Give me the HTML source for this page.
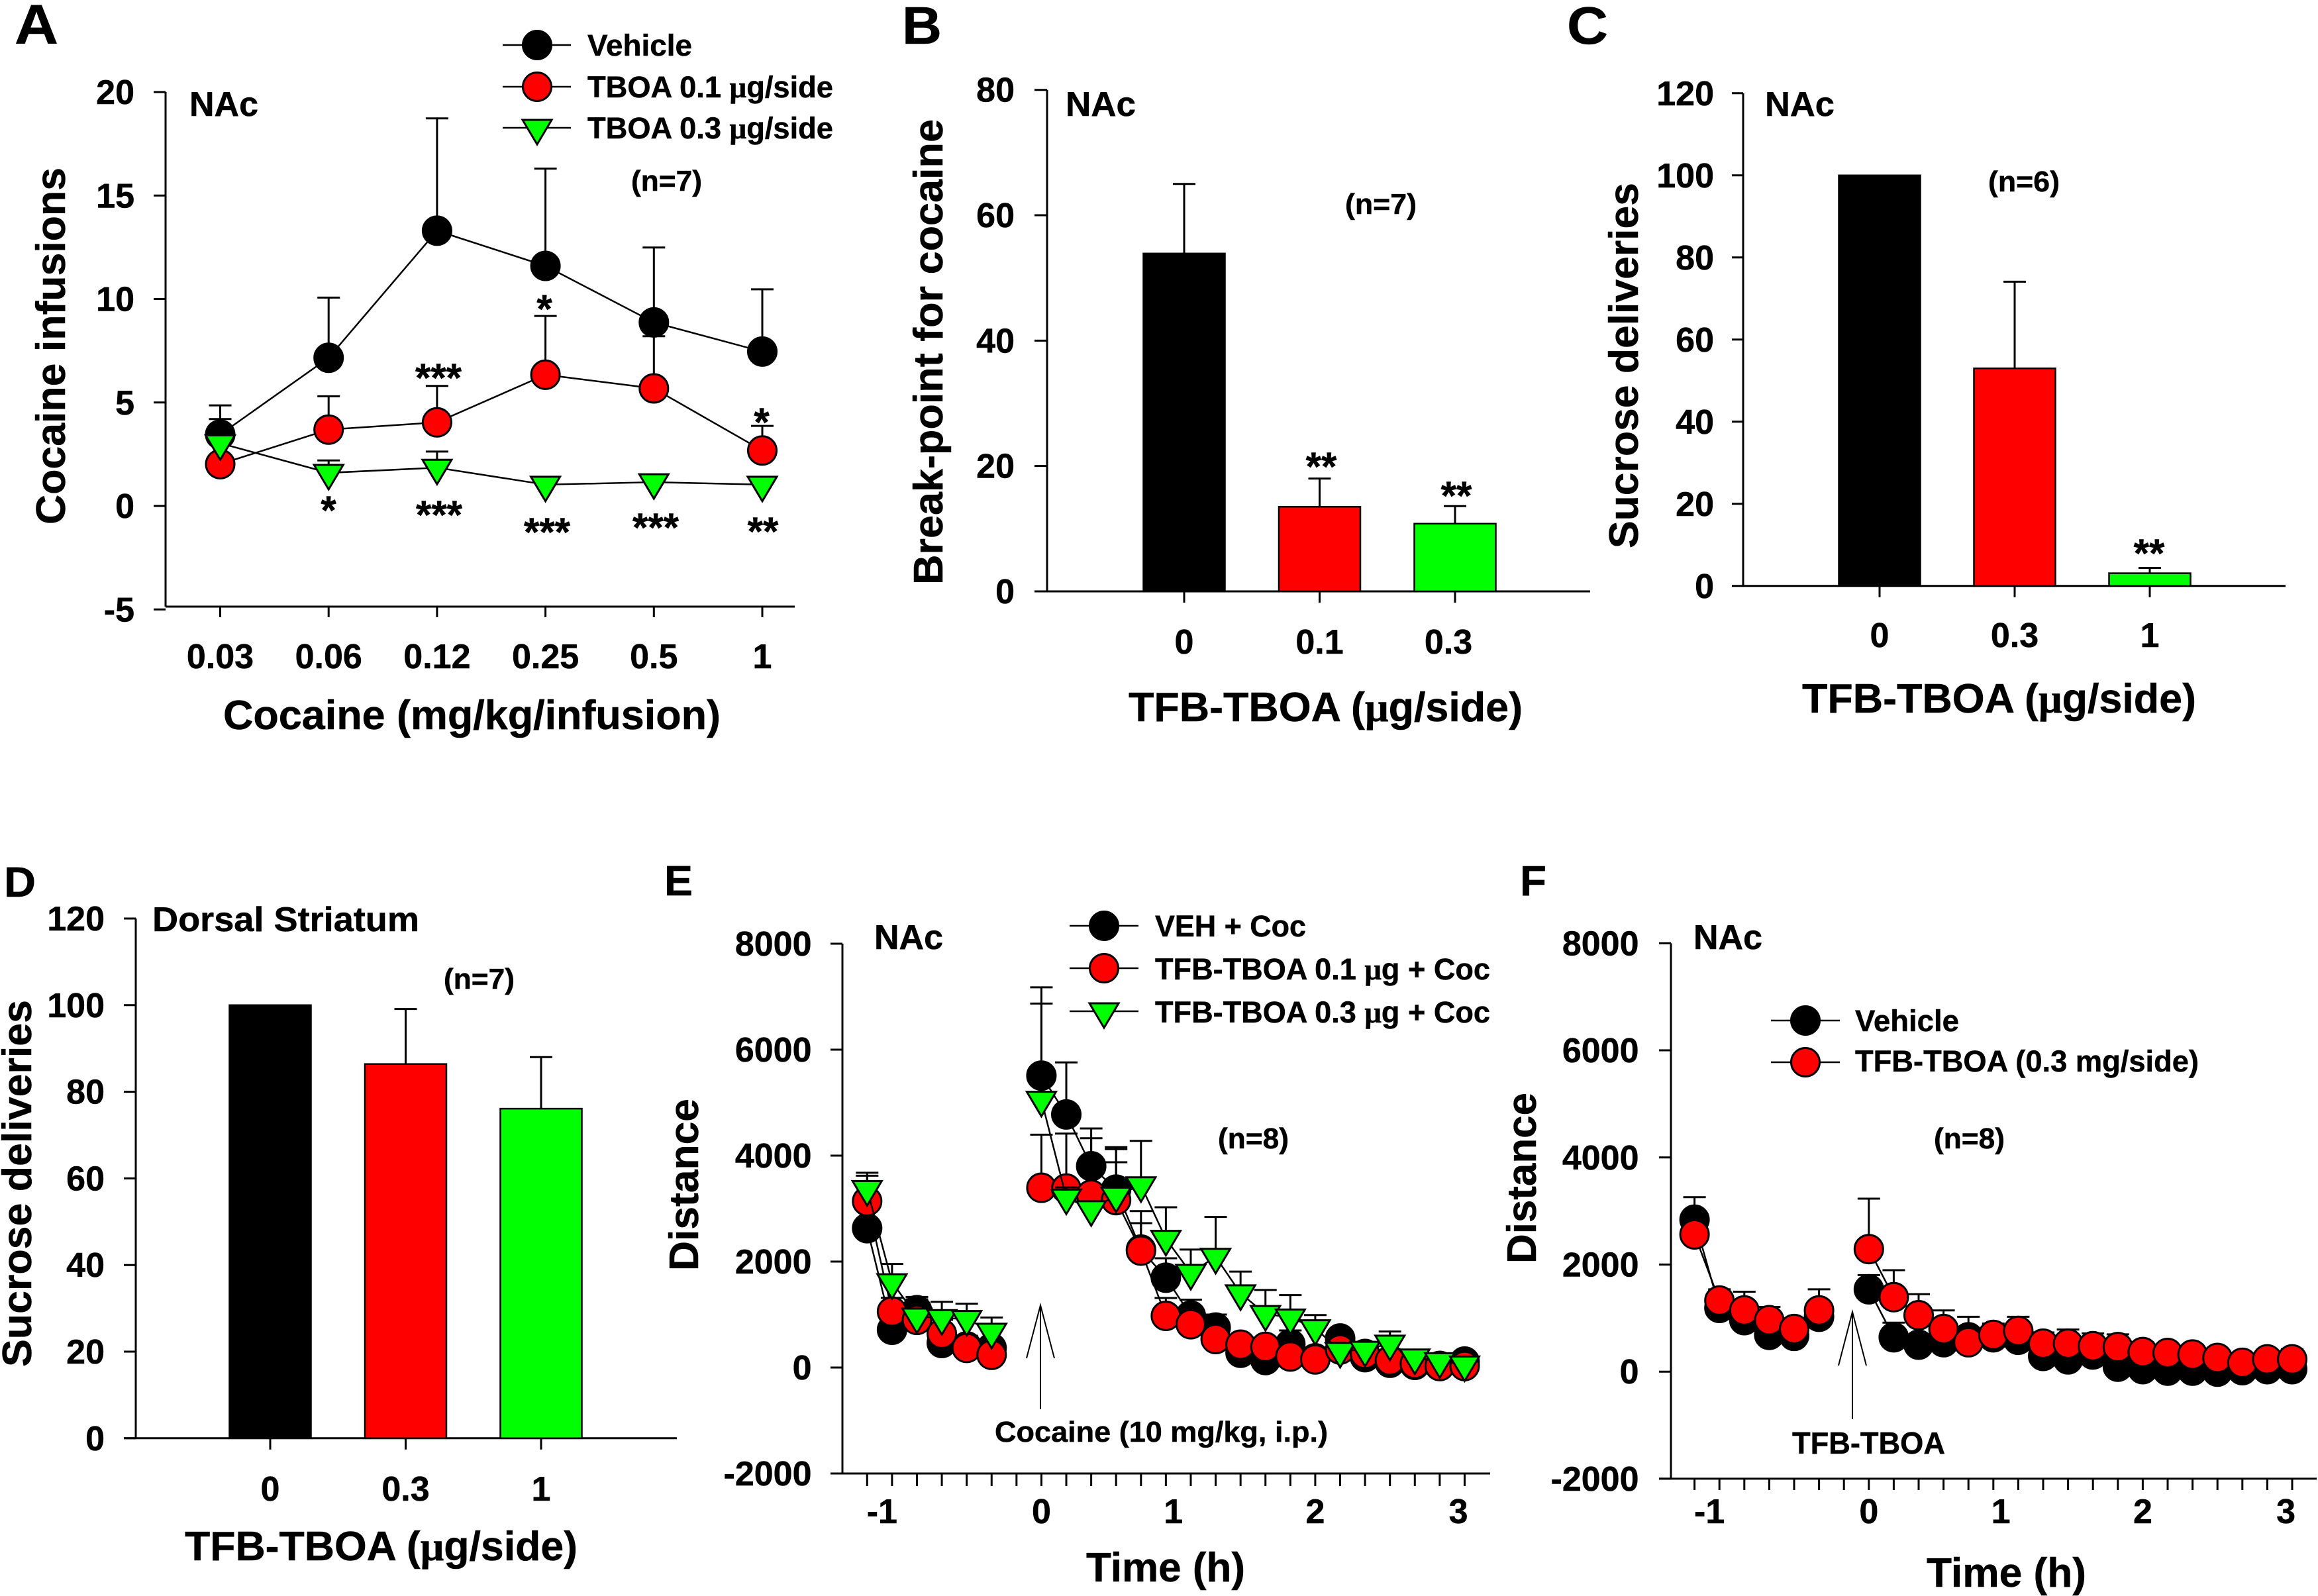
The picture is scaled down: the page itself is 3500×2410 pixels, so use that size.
<!DOCTYPE html>
<html lang="en">
<head>
<meta charset="utf-8">
<title>TFB-TBOA multi-panel figure</title>
<style>
html,body{margin:0;padding:0;background:#fff;}
svg{display:block;}
text{font-family:"Liberation Sans",Arial,sans-serif;font-weight:bold;fill:#000;stroke:#000;stroke-width:0.5;}
.mu{font-family:"Liberation Serif",serif;}
</style>
</head>
<body>
<svg id="figure" xmlns="http://www.w3.org/2000/svg" width="3500" height="2410" viewBox="0 0 3500 2410">
<rect width="3500" height="2410" fill="#fff"/>

<g id="panelA">
  <text x="22" y="66" font-size="84" textLength="66" lengthAdjust="spacingAndGlyphs">A</text>
  <text x="286" y="175" font-size="52" textLength="104" lengthAdjust="spacingAndGlyphs">NAc</text>
  <text x="953" y="288" font-size="44" textLength="107" lengthAdjust="spacingAndGlyphs">(n=7)</text>
  <text transform="translate(98,792) rotate(-90)" font-size="62" textLength="539" lengthAdjust="spacingAndGlyphs">Cocaine infusions</text>
  <text x="337" y="1101" font-size="62" textLength="751" lengthAdjust="spacingAndGlyphs">Cocaine (mg/kg/infusion)</text>
  <g>
    <line x1="759" x2="862" y1="68" y2="68" stroke="#000" stroke-width="2.5"/>
    <circle cx="811" cy="68" r="21.5" fill="#000" stroke="#000" stroke-width="3"/>
    <text x="887" y="84" font-size="45" textLength="158" lengthAdjust="spacingAndGlyphs">Vehicle</text>
    <line x1="759" x2="862" y1="131" y2="131" stroke="#000" stroke-width="2.5"/>
    <circle cx="811" cy="131" r="21.5" fill="#f00" stroke="#000" stroke-width="3"/>
    <text x="887" y="147" font-size="45" textLength="371" lengthAdjust="spacingAndGlyphs">TBOA 0.1 <tspan class="mu">μ</tspan>g/side</text>
    <line x1="759" x2="862" y1="193" y2="193" stroke="#000" stroke-width="2.5"/>
    <polygon points="789,181 833,181 811,218" fill="#0f0" stroke="#000" stroke-width="3"/>
    <text x="887" y="209" font-size="45" textLength="371" lengthAdjust="spacingAndGlyphs">TBOA 0.3 <tspan class="mu">μ</tspan>g/side</text>
  </g>
  <g font-size="60" text-anchor="middle">
    <text x="822" y="487" text-anchor="middle" font-size="60">*</text>
    <text x="662" y="591" text-anchor="middle" font-size="60">***</text>
    <text x="1150" y="658" text-anchor="middle" font-size="60">*</text>
    <text x="496" y="791" text-anchor="middle" font-size="60">*</text>
    <text x="663" y="798" text-anchor="middle" font-size="60">***</text>
    <text x="826" y="824" text-anchor="middle" font-size="60">***</text>
    <text x="990" y="817" text-anchor="middle" font-size="60">***</text>
    <text x="1152" y="823" text-anchor="middle" font-size="60">**</text>
  </g>
</g>

<g id="panelB">
  <text x="1362" y="66" font-size="80" textLength="60" lengthAdjust="spacingAndGlyphs">B</text>
  <text x="1609" y="175" font-size="52" textLength="106" lengthAdjust="spacingAndGlyphs">NAc</text>
  <text x="2031" y="323" font-size="44" textLength="108" lengthAdjust="spacingAndGlyphs">(n=7)</text>
  <text transform="translate(1423,883) rotate(-90)" font-size="62" textLength="703" lengthAdjust="spacingAndGlyphs">Break-point for cocaine</text>
  <text x="1704" y="1089" font-size="62" textLength="595" lengthAdjust="spacingAndGlyphs">TFB-TBOA (<tspan class="mu">μ</tspan>g/side)</text>
  <text x="1995" y="725" text-anchor="middle" font-size="60">**</text>
  <text x="2199" y="769" text-anchor="middle" font-size="60">**</text>
</g>

<g id="panelC">
  <text x="2366" y="66" font-size="80" textLength="62" lengthAdjust="spacingAndGlyphs">C</text>
  <text x="2665" y="175" font-size="52" textLength="105" lengthAdjust="spacingAndGlyphs">NAc</text>
  <text x="3002" y="289" font-size="44" textLength="108" lengthAdjust="spacingAndGlyphs">(n=6)</text>
  <text transform="translate(2473,828) rotate(-90)" font-size="62" textLength="552" lengthAdjust="spacingAndGlyphs">Sucrose deliveries</text>
  <text x="2721" y="1076" font-size="62" textLength="595" lengthAdjust="spacingAndGlyphs">TFB-TBOA (<tspan class="mu">μ</tspan>g/side)</text>
  <text x="3245" y="856" text-anchor="middle" font-size="60">**</text>
</g>

<g id="panelD">
  <text x="6" y="1354" font-size="64" textLength="48" lengthAdjust="spacingAndGlyphs">D</text>
  <text x="230" y="1406" font-size="52" textLength="403" lengthAdjust="spacingAndGlyphs">Dorsal Striatum</text>
  <text x="670" y="1493" font-size="44" textLength="107" lengthAdjust="spacingAndGlyphs">(n=7)</text>
  <text transform="translate(47,2064) rotate(-90)" font-size="62" textLength="554" lengthAdjust="spacingAndGlyphs">Sucrose deliveries</text>
  <text x="279" y="2356" font-size="62" textLength="593" lengthAdjust="spacingAndGlyphs">TFB-TBOA (<tspan class="mu">μ</tspan>g/side)</text>
</g>

<g id="panelE">
  <text x="1003" y="1352" font-size="64" textLength="43" lengthAdjust="spacingAndGlyphs">E</text>
  <text x="1320" y="1433" font-size="52" textLength="104" lengthAdjust="spacingAndGlyphs">NAc</text>
  <text x="1839" y="1734" font-size="44" textLength="107" lengthAdjust="spacingAndGlyphs">(n=8)</text>
  <text transform="translate(1054,1919) rotate(-90)" font-size="62" textLength="260" lengthAdjust="spacingAndGlyphs">Distance</text>
  <text x="1640" y="2388" font-size="62" textLength="240" lengthAdjust="spacingAndGlyphs">Time (h)</text>
  <text x="1502" y="2177" font-size="44" textLength="503" lengthAdjust="spacingAndGlyphs">Cocaine (10 mg/kg, i.p.)</text>
  <path d="M1571 2128V1971M1550 2051L1571 1971L1592 2051" fill="none" stroke="#000" stroke-width="2"/>
  <g>
    <line x1="1615" x2="1719" y1="1398" y2="1398" stroke="#000" stroke-width="2.5"/>
    <circle cx="1667" cy="1398" r="21.5" fill="#000" stroke="#000" stroke-width="3"/>
    <text x="1744" y="1414" font-size="45" textLength="228" lengthAdjust="spacingAndGlyphs">VEH + Coc</text>
    <line x1="1615" x2="1719" y1="1462" y2="1462" stroke="#000" stroke-width="2.5"/>
    <circle cx="1667" cy="1462" r="21.5" fill="#f00" stroke="#000" stroke-width="3"/>
    <text x="1744" y="1479" font-size="45" textLength="506" lengthAdjust="spacingAndGlyphs">TFB-TBOA 0.1 <tspan class="mu">μ</tspan>g + Coc</text>
    <line x1="1615" x2="1719" y1="1527" y2="1527" stroke="#000" stroke-width="2.5"/>
    <polygon points="1645,1515 1689,1515 1667,1552" fill="#0f0" stroke="#000" stroke-width="3"/>
    <text x="1744" y="1544" font-size="45" textLength="506" lengthAdjust="spacingAndGlyphs">TFB-TBOA 0.3 <tspan class="mu">μ</tspan>g + Coc</text>
  </g>
</g>

<g id="panelF">
  <text x="2295" y="1352" font-size="64" textLength="40" lengthAdjust="spacingAndGlyphs">F</text>
  <text x="2557" y="1433" font-size="52" textLength="104" lengthAdjust="spacingAndGlyphs">NAc</text>
  <text x="2920" y="1734" font-size="44" textLength="107" lengthAdjust="spacingAndGlyphs">(n=8)</text>
  <text transform="translate(2319,1908) rotate(-90)" font-size="62" textLength="258" lengthAdjust="spacingAndGlyphs">Distance</text>
  <text x="2909" y="2396" font-size="62" textLength="241" lengthAdjust="spacingAndGlyphs">Time (h)</text>
  <text x="2706" y="2195" font-size="46" textLength="231" lengthAdjust="spacingAndGlyphs">TFB-TBOA</text>
  <path d="M2797 2143V1981M2776 2062L2797 1981L2818 2062" fill="none" stroke="#000" stroke-width="2"/>
  <g>
    <line x1="2674" x2="2778" y1="1541" y2="1541" stroke="#000" stroke-width="2.5"/>
    <circle cx="2726" cy="1541" r="21.5" fill="#000" stroke="#000" stroke-width="3"/>
    <text x="2801" y="1557" font-size="45" textLength="157" lengthAdjust="spacingAndGlyphs">Vehicle</text>
    <line x1="2674" x2="2778" y1="1604" y2="1604" stroke="#000" stroke-width="2.5"/>
    <circle cx="2726" cy="1604" r="21.5" fill="#f00" stroke="#000" stroke-width="3"/>
    <text x="2801" y="1618" font-size="45" textLength="519" lengthAdjust="spacingAndGlyphs">TFB-TBOA (0.3 mg/side)</text>
  </g>
</g>
</svg>

<script>
// Panel A data
const aCategories = ['0.03','0.06','0.12','0.25','0.5','1'];
const aYTicks = [-5,0,5,10,15,20];
const aVehicle = [3.45,7.16,13.3,11.6,8.87,7.46];
const aVehicleErr = [4.86,10.07,18.73,16.3,12.49,10.47];
const aTboa01 = [2.02,3.69,4.04,6.34,5.68,2.68];
const aTboa01Err = [4.2,5.3,5.8,9.18,8.2,3.87];
const aTboa03 = [3.03,1.6,1.85,1.03,1.15,1.03];
const aTboa03Err = [3.3,2.2,2.63,1.15,1.5,1.1];

// Panel B data
const bCategories = ['0','0.1','0.3'];
const bYTicks = [0,20,40,60,80];
const bValues = [53.9,13.5,10.8];
const bErrors = [65,18,13.6];

// Panel C data
const cCategories = ['0','0.3','1'];
const cYTicks = [0,20,40,60,80,100,120];
const cValues = [100,53,3.1];
const cErrors = [100,74.1,4.4];

// Panel D data
const dCategories = ['0','0.3','1'];
const dYTicks = [0,20,40,60,80,100,120];
const dValues = [100,86.4,76.1];
const dErrors = [100,99.1,88];

// Panel E data (index = sampling slot along the time axis, null = no sample)
const timeLabels = ['-1','0','1','2','3'];
const timeLabelSlots = [0.6,7,12.3,18,23.75];
const distanceTicks = [-2000,0,2000,4000,6000,8000];
const eVeh = [2630,713,1083,463,400,370,null,5510,4776,3800,3360,2226,1696,982,754,278,141,443,175,548,195,90,50,29,112];
const eVehErr = [3100,1000,1333,700,600,500,null,7176,5759,4512,4122,2953,2063,1281,1000,500,300,700,300,700,400,200,150,120,200];
const eTfb01 = [3139,1056,898,639,370,240,null,3393,3378,3262,3160,2206,975,817,538,431,390,208,153,340,257,133,70,29,29];
const eTfb01Err = [3620,1315,1287,900,600,400,null,4395,4415,4328,3875,2725,1313,1050,700,600,500,300,250,500,350,250,120,80,60];
const eTfb03 = [3370,1611,963,935,917,676,null,5054,3208,2989,3246,3441,2429,1787,2090,1401,1011,945,742,315,336,452,190,120,58];
const eTfb03Err = [3676,1954,1050,1240,1204,944,null,6870,3400,3100,4160,4278,3025,2227,2842,1811,1464,1367,991,400,450,680,250,180,100];

// Panel F data
const fVehicle = [2837,1190,961,686,668,1025,null,1538,641,503,549,641,641,595,293,229,320,92,46,18,18,0,27,46,46];
const fVehicleErr = [3258,1250,1100,800,750,1150,null,1803,915,600,650,800,800,700,400,350,400,200,150,120,120,100,130,150,130];
const fTfb = [2563,1327,1144,961,796,1144,null,2288,1391,1053,796,549,686,760,522,522,476,458,366,348,320,256,165,229,229];
const fTfbErr = [2900,1538,1492,1208,900,1538,null,3231,1895,1446,1144,1025,897,1025,732,787,714,696,550,500,500,400,300,400,420];

const NS = 'http://www.w3.org/2000/svg';
function mk(parent, tag, attrs, text) {
  const el = document.createElementNS(NS, tag);
  for (const k in attrs) el.setAttribute(k, attrs[k]);
  if (text !== undefined) el.textContent = text;
  parent.appendChild(el);
  return el;
}

function drawYAxis(parent, ticks, y, axisX, tickLeft, labelRight, topY, bottomY) {
  const axis = mk(parent, 'line', {x1:axisX, x2:axisX, y1:topY, y2:bottomY, stroke:'#000', 'stroke-width':3});
  
  
  ticks.forEach(function (v) {
    const tick = mk(parent, 'line', {x1:tickLeft, x2:axisX, y1:y(v), y2:y(v), stroke:'#000', 'stroke-width':3});
    
    
    const label = mk(parent, 'text', {x:labelRight, y:y(v)+18, 'text-anchor':'end', 'font-size':52}, String(v));
    
    
  });
}

function drawXAxisLine(parent, x1, x2, yPos) {
  const axis = mk(parent, 'line', {x1:x1, x2:x2, y1:yPos, y2:yPos, stroke:'#000', 'stroke-width':3});
  
  
}

function drawXTick(parent, px, y1, y2) {
  const tick = mk(parent, 'line', {x1:px, x2:px, y1:y1, y2:y2, stroke:'#000', 'stroke-width':3});
  
  
}

function drawXLabel(parent, px, baseline, str) {
  const label = mk(parent, 'text', {x:px, y:baseline, 'text-anchor':'middle', 'font-size':52}, str);
  
  
}

function drawErr(parent, px, yVal, yTop, capHalf) {
  const stem = mk(parent, 'line', {x1:px, x2:px, y1:yVal, y2:yTop, stroke:'#000', 'stroke-width':3});
  
  
  const cap = mk(parent, 'line', {x1:px-capHalf, x2:px+capHalf, y1:yTop, y2:yTop, stroke:'#000', 'stroke-width':3});
  
  
}

function drawMarker(parent, kind, px, py, fill) {
  if (kind === 'tri') {
    const tri = mk(parent, 'polygon', {points:(px-22)+','+(py-12)+' '+(px+22)+','+(py-12)+' '+px+','+(py+25), fill:fill, stroke:'#000', 'stroke-width':3});
    
    
  } else {
    const dot = mk(parent, 'circle', {cx:px, cy:py, r:21.5, fill:fill, stroke:'#000', 'stroke-width':3});
    
    
  }
}

function drawSeries(parent, values, errs, x, y, kind, fill) {
  const g = mk(parent, 'g', {});
  
  
  values.forEach(function (v, i) {
    if (v === null) return;
    drawErr(g, x(i), y(v), y(errs[i]), 17);
  });
  let prev = null;
  values.forEach(function (v, i) {
    if (v !== null && prev !== null) {
      const seg = mk(g, 'line', {x1:x(prev), y1:y(values[prev]), x2:x(i), y2:y(v), stroke:'#000', 'stroke-width':2.5});
      
      
    }
    prev = v === null ? null : i;
  });
  values.forEach(function (v, i) {
    if (v === null) return;
    drawMarker(g, kind, x(i), y(v), fill);
  });
}

function drawBars(parent, categories, values, errs, x, y, labelBaseline, nudge) {
  const fills = ['#000', '#f00', '#0f0'];
  values.forEach(function (v, i) {
    if (errs[i] > v) drawErr(parent, x(i), y(v), y(errs[i]), 17);
    const bar = mk(parent, 'rect', {x:x(i)-61.5, y:y(v), width:123, height:y(0)-y(v), fill:fills[i], stroke:'#000', 'stroke-width':2.5});
    
    
    drawXTick(parent, x(i), y(0), y(0)+17);
    drawXLabel(parent, x(i)+nudge(i), labelBaseline, categories[i]);
  });
}

// Panel A
(function () {
  const p = document.getElementById('panelA');
  const x = function (i) { return 332.5 + 163.7 * i; };
  const y = function (v) { return 764 - 31.25 * v; };
  drawYAxis(p, aYTicks, y, 250, 232, 203, y(20), 916);
  drawXAxisLine(p, 250, 1200, 916);
  aCategories.forEach(function (c, i) {
    drawXTick(p, x(i), 916, 932);
    drawXLabel(p, x(i), 1009, c);
  });
  drawSeries(p, aVehicle, aVehicleErr, x, y, 'dot', '#000');
  drawSeries(p, aTboa01, aTboa01Err, x, y, 'dot', '#f00');
  drawSeries(p, aTboa03, aTboa03Err, x, y, 'tri', '#0f0');
})();

// Panel B
(function () {
  const p = document.getElementById('panelB');
  const x = function (i) { return 1788 + 204.5 * i; };
  const y = function (v) { return 893 - 9.466 * v; };
  drawYAxis(p, bYTicks, y, 1581, 1562, 1532, y(80), y(0));
  drawXAxisLine(p, 1581, 2401, y(0));
  drawBars(p, bCategories, bValues, bErrors, x, y, 987, function (i) { return i === 2 ? -10 : 0; });
})();

// Panel C
(function () {
  const p = document.getElementById('panelC');
  const x = function (i) { return 2838 + 204 * i; };
  const y = function (v) { return 884.8 - 6.2 * v; };
  drawYAxis(p, cYTicks, y, 2632, 2615, 2588, y(120), y(0));
  drawXAxisLine(p, 2632, 3451, y(0));
  drawBars(p, cCategories, cValues, cErrors, x, y, 977, function () { return 0; });
})();

// Panel D
(function () {
  const p = document.getElementById('panelD');
  const x = function (i) { return 408 + 204.5 * i; };
  const y = function (v) { return 2171.8 - 6.54 * v; };
  drawYAxis(p, dYTicks, y, 205, 187, 158, y(120), y(0));
  drawXAxisLine(p, 187, 1022, y(0));
  drawBars(p, dCategories, dValues, dErrors, x, y, 2266, function () { return 0; });
})();

function drawTimeAxis(p, x, axisY, tickEnd, labelBaseline, axisEnd, axisX) {
  drawXAxisLine(p, axisX - 18, axisEnd, axisY);
  for (let i = 0; i < eVeh.length; i++) drawXTick(p, x(i), axisY, tickEnd);
  timeLabels.forEach(function (t, i) {
    drawXLabel(p, x(timeLabelSlots[i]), labelBaseline, t);
  });
}

// Panel E
(function () {
  const p = document.getElementById('panelE');
  const x = function (i) { return 1309.3 + 37.59 * i; };
  const y = function (v) { return 2065 - 0.08 * v; };
  drawYAxis(p, distanceTicks, y, 1272, 1254, 1225.5, y(8000), y(-2000));
  drawTimeAxis(p, x, y(-2000), 2244, 2300, 2250, 1272);
  drawSeries(p, eVeh, eVehErr, x, y, 'dot', '#000');
  drawSeries(p, eTfb01, eTfb01Err, x, y, 'dot', '#f00');
  drawSeries(p, eTfb03, eTfb03Err, x, y, 'tri', '#0f0');
})();

// Panel F
(function () {
  const p = document.getElementById('panelF');
  const x = function (i) { return 2558.6 + 37.6 * i; };
  const y = function (v) { return 2071.2 - 0.08086 * v; };
  drawYAxis(p, distanceTicks, y, 2523, 2505, 2474.5, y(8000), y(-2000));
  drawTimeAxis(p, x, y(-2000), 2250, 2300, 3498, 2523);
  drawSeries(p, fVehicle, fVehicleErr, x, y, 'dot', '#000');
  drawSeries(p, fTfb, fTfbErr, x, y, 'dot', '#f00');
})();
</script>
</body>
</html>
